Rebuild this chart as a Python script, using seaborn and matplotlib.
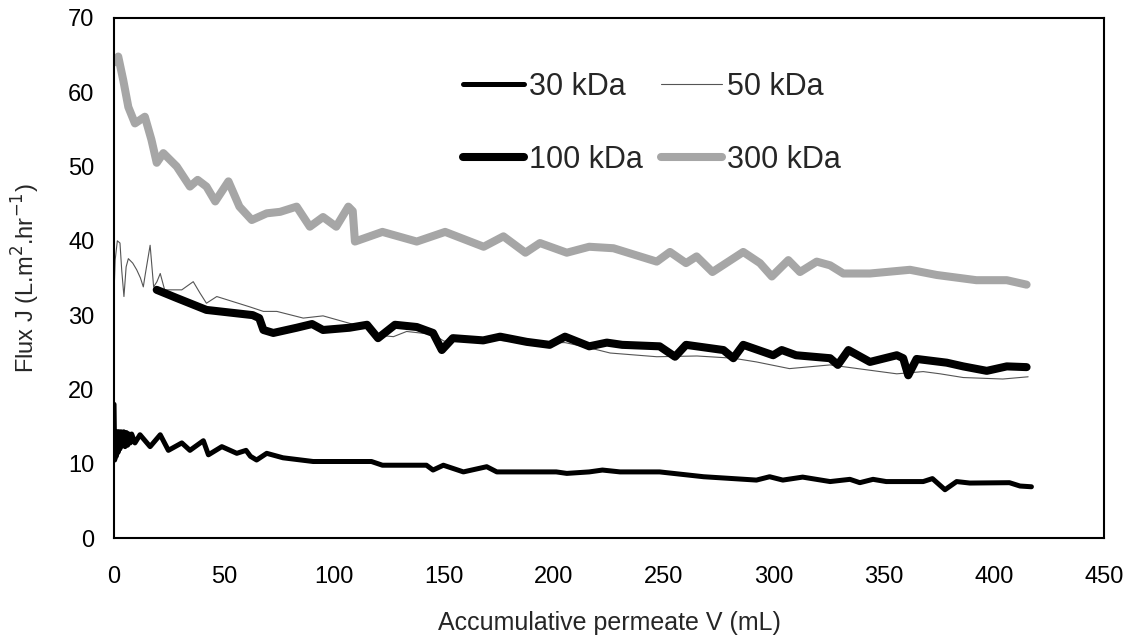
import matplotlib
matplotlib.use("Agg")
import matplotlib.pyplot as plt
import seaborn as sns
import pandas as pd

# 30 kDa membrane
x30 = [0, 0.3, 0.6, 1.0, 1.4, 1.8, 2.2, 2.7, 3.2, 3.8, 4.4, 5.0, 5.6, 6.2, 6.8, 7.4, 8.0,
       9.5, 11.8, 16.4, 21, 24.7, 30.8, 34.5, 40.6, 42.9, 49, 55.8, 60, 62, 64.8, 69.4,
       76.8, 90.5, 107, 117, 122, 142, 145, 149.7, 158.8, 169.4, 174, 201, 205.8, 216,
       222, 230, 248, 268, 292, 298, 304, 313, 325.5, 334.5, 339, 345, 351, 367.8, 372,
       377.7, 383, 389, 407, 411.8, 417]
y30 = [18, 10.5, 14, 11, 14.3, 11.5, 14.3, 12, 14.3, 12.5, 14.3, 12.3, 14.2, 12.5, 14, 12.8, 14,
       12.8, 13.9, 12.3, 13.9, 11.8, 12.8, 11.8, 13.1, 11.2, 12.3, 11.4, 11.8, 11.0, 10.5, 11.4,
       10.8, 10.3, 10.3, 10.3, 9.8, 9.8, 9.15, 9.8, 8.9, 9.6, 8.9, 8.9, 8.7, 8.9,
       9.15, 8.9, 8.9, 8.25, 7.8, 8.25, 7.8, 8.2, 7.6, 7.9, 7.45, 7.9, 7.6, 7.6, 8.0,
       6.5, 7.6, 7.4, 7.45, 7.0, 6.9]

# 50 kDa membrane
x50 = [0, 0.5, 1.5, 2.7, 3.5, 4.5, 5.5, 6.5, 8.5, 10.3, 12, 13.3, 14.2, 16.4, 18, 19.5, 21,
       23, 30.8, 36, 39, 42, 46.7, 61.8, 67.9, 74, 86, 95, 107, 115, 120, 127, 133, 145,
       150, 160, 175, 190, 205, 216, 225.5, 246.7, 265, 281.5, 292, 307, 325.5, 340.6,
       355.8, 367.8, 375.5, 386, 404, 415.5]
y50 = [33, 37.4, 40, 39.7, 36, 32.5, 36.5, 37.6, 37, 36.1, 35, 33.8, 35.5, 39.4, 33.8, 34.5, 35.6,
       33.4, 33.4, 34.5, 33, 31.6, 32.5, 31.1, 30.5, 30.5, 29.6, 29.9, 28.9, 28.3, 27.3, 27.1, 27.8, 27.4,
       26.5, 26.6, 26.6, 26.3, 26.3, 25.6, 24.9, 24.4, 24.5, 24.2, 23.7, 22.8, 23.3, 22.7,
       22.1, 22.4, 22.1, 21.6, 21.4, 21.7]

# 100 kDa membrane
x100 = [19.4, 28.5, 42, 54, 63, 66, 67.9, 72.4, 83, 90, 95, 107, 115, 120, 127.7, 137.6, 145,
        149, 154, 167.8, 175.5, 187.6, 198, 205, 216, 224, 231, 248, 255, 260, 277, 281.5,
        286, 299.6, 303.5, 310, 325.5, 329, 333.8, 343.6, 355.8, 358.7, 361, 364.8, 378.5,
        386, 396.7, 405.8, 414.8]
y100 = [33.4, 32.3, 30.7, 30.3, 30.0, 29.6, 28.0, 27.6, 28.3, 28.8, 28.0, 28.3, 28.7, 26.9, 28.7, 28.4, 27.6,
        25.3, 26.9, 26.6, 27.1, 26.4, 26.0, 27.1, 25.8, 26.3, 26.0, 25.8, 24.4, 26.0, 25.3, 24.2,
        26.0, 24.6, 25.3, 24.6, 24.2, 23.3, 25.3, 23.7, 24.6, 24.2, 21.9, 24.1, 23.6,
        23.1, 22.5, 23.1, 23.0]

# 300 kDa membrane
x300 = [0, 1.9, 4.2, 6.5, 9.5, 14, 17, 19.4, 22.4, 28.5, 34.5, 38, 42, 46, 52, 57, 62.6, 69.4,
        75.5, 83, 89, 95, 101, 106.5, 108.5, 109.5, 122, 137.6, 150.5, 168, 177, 187, 193.6,
        205.8, 216, 227, 246.7, 252.7, 260, 264.8, 272, 286, 293.6, 299, 306.5, 311.8, 319.4,
        325.5, 331.5, 343.6, 361.8, 374, 392, 405.8, 414.8]
y300 = [64, 64.8, 61.6, 58, 55.8, 56.7, 53.6, 50.5, 51.8, 50, 47.3, 48.2, 47.3, 45.3, 48, 44.6, 42.8, 43.7,
        43.9, 44.6, 41.9, 43.2, 41.9, 44.6, 44.0, 39.9, 41.2, 39.9, 41.2, 39.2, 40.6, 38.4, 39.7,
        38.4, 39.2, 39.0, 37.2, 38.5, 37.0, 37.9, 35.8, 38.5, 37.0, 35.2, 37.4, 35.8, 37.2,
        36.7, 35.6, 35.6, 36.1, 35.4, 34.7, 34.7, 34.1]

series = [
    ("30 kDa", x30, y30, "black", 3.6),
    ("50 kDa", x50, y50, "#555555", 0.8),
    ("100 kDa", x100, y100, "black", 5.8),
    ("300 kDa", x300, y300, "#a6a6a6", 5.8),
]

sns.set_theme(style="white")
plt.rcParams["font.family"] = ["Liberation Sans", "DejaVu Sans"]

fig = plt.figure(figsize=(11.37, 6.39), dpi=100)
ax = fig.add_axes([0.1003, 0.158, 0.8707, 0.814])

for name, xs, ys, color, lw in series:
    df = pd.DataFrame({"V": xs, "J": ys})
    sns.lineplot(data=df, x="V", y="J", ax=ax, color=color, linewidth=lw,
                 estimator=None, sort=False, label=name,
                 solid_joinstyle="round", solid_capstyle="round")

ax.set_xlim(0, 450)
ax.set_ylim(0, 70)
ax.set_xticks(range(0, 451, 50))
ax.set_yticks(range(0, 71, 10))
ax.tick_params(direction="in", length=5, width=1, labelsize=17, colors="black")
ax.tick_params(axis="x", pad=20)
ax.tick_params(axis="y", pad=14)
for s in ax.spines.values():
    s.set_color("black")
    s.set_linewidth(1.5)

ax.set_xlabel("Accumulative permeate V (mL)", fontsize=18, labelpad=17)
ax.set_ylabel("Flux J (L.m$^{2}$.hr$^{-1}$)", fontsize=17, labelpad=19)

# two rows: 30/50 on top, 100/300 below (legend fills column by column)
handles, labels = ax.get_legend_handles_labels()
order = [0, 2, 1, 3]
ax.legend([handles[i] for i in order], [labels[i] for i in order],
          loc="upper left", bbox_to_anchor=(0.394, 0.911), bbox_transform=fig.transFigure,
          ncol=2, frameon=False, fontsize=22, handlelength=2.0, handletextpad=0.15,
          columnspacing=0.6, labelspacing=1.4, borderpad=0)

fig.savefig("out.png", dpi=100)
